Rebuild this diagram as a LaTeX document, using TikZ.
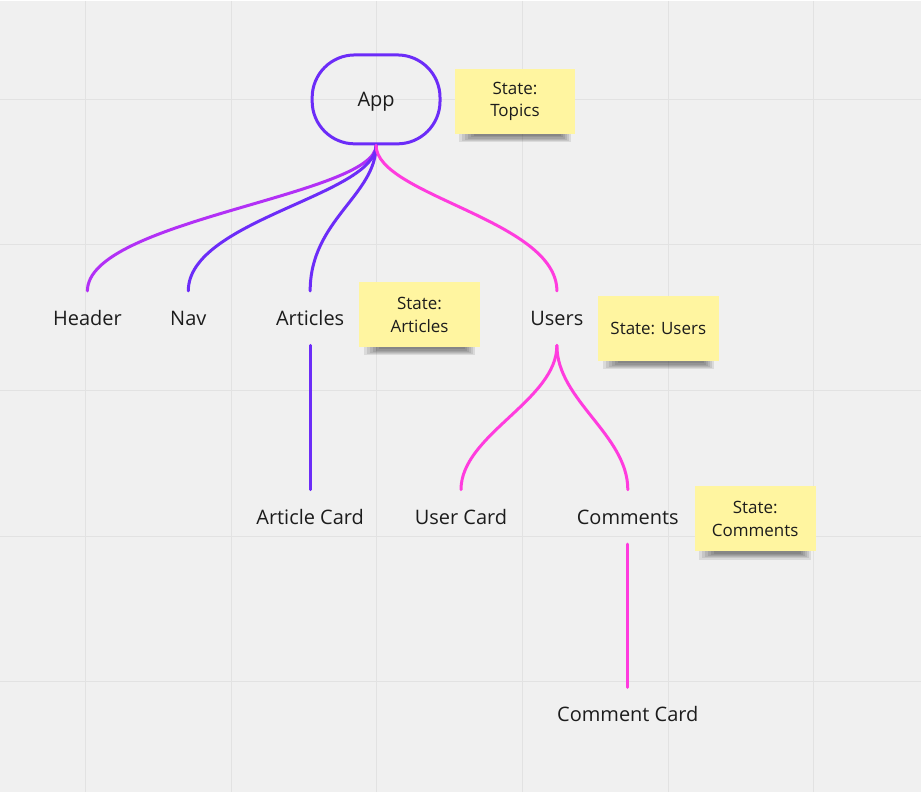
\documentclass[tikz,border=0pt]{standalone}
\usepackage{fontspec}
\setmainfont{Open Sans}
\usetikzlibrary{calc}
\pgfdeclarelayer{back}
\pgfdeclarelayer{shade}
\pgfsetlayers{back,shade,main}
\definecolor{bgc}{RGB}{240,240,240}
\definecolor{gridc}{RGB}{226,226,226}
\definecolor{violetc}{RGB}{108,44,248}
\definecolor{purplec}{RGB}{178,48,246}
\definecolor{pinkc}{RGB}{255,60,222}
\definecolor{stickyc}{RGB}{255,245,160}
\definecolor{textc}{RGB}{28,28,28}
\tikzset{
  lbl/.style={font=\fontsize{15}{18}\selectfont, text=textc, text height=10.7pt, text depth=0pt, minimum height=40.5pt, inner sep=0pt},
  sticky/.style={fill=stickyc, minimum width=90.75pt, minimum height=48.75pt, align=center, inner sep=0pt, text=textc, font=\fontsize{12.75}{17.25}\selectfont},
  conn/.style={line width=2.25pt, line cap=round},
  appbox/.style={draw=violetc, line width=2.25pt, rounded corners=32pt, minimum width=96pt, minimum height=66.75pt, inner sep=0pt, font=\fontsize{15}{18}\selectfont, text=textc, text height=10.7pt, text depth=0pt}
}
\newcommand{\stickyshade}[1]{%
  \begin{pgfonlayer}{shade}
  \foreach \i in {0,...,5}{
    \fill[black, opacity=0.09] ($(#1.south west)+(5+3*\i,-3)$) rectangle ($(#1.south east)+(-5-2*\i,8-1.2*\i)$);
  }
  \end{pgfonlayer}}
\begin{document}
\begin{tikzpicture}[x=0.75pt,y=-0.75pt]
\begin{pgfonlayer}{back}
\fill[bgc] (0,0) rectangle (921,792);
\foreach \gx in {85.5,231.2,376.9,522.6,668.3,814} \draw[gridc, line width=0.75pt] (\gx,0) -- (\gx,792);
\foreach \gy in {99,244.7,390.4,536.1,681.8} \draw[gridc, line width=0.75pt] (0,\gy) -- (921,\gy);
\end{pgfonlayer}
\useasboundingbox (0,0) rectangle (921,792);

% nodes
\node[appbox] (app) at (376,99) {App};
\node[sticky] (topics) at (515,101) {State:\\Topics};
\node[lbl] (header) at (87,318) {Header};
\node[lbl] (nav) at (188,318) {Nav};
\node[lbl] (articles) at (310,318) {Articles};
\node[sticky] (artstate) at (419.5,314.5) {State:\\Articles};
\node[lbl] (users) at (557,318) {Users};
\node[sticky] (userstate) at (658.5,328.5) {State: Users};
\node[lbl] (artcard) at (310,517) {Article Card};
\node[lbl] (usercard) at (461,517) {User Card};
\node[lbl] (comments) at (628,517) {Comments};
\node[sticky] (commstate) at (755.5,519) {State:\\Comments};
\node[lbl] (commcard) at (628,715) {Comment Card};

\stickyshade{topics}
\stickyshade{artstate}
\stickyshade{userstate}
\stickyshade{commstate}

% connectors
\draw[conn, purplec] (app.south) .. controls +(0,50) and +(0,-71) .. (header.north);
\draw[conn, violetc] (app.south) .. controls +(0,50) and +(0,-71) .. (nav.north);
\draw[conn, violetc] (app.south) .. controls +(0,50) and +(0,-71) .. (articles.north);
\draw[conn, pinkc] (app.south) .. controls +(0,50) and +(0,-71) .. (users.north);
\draw[conn, violetc] (articles.south) -- (artcard.north);
\draw[conn, pinkc] (users.south) .. controls +(0,55) and +(0,-55) .. (usercard.north);
\draw[conn, pinkc] (users.south) .. controls +(0,55) and +(0,-55) .. (comments.north);
\draw[conn, pinkc] (comments.south) -- (commcard.north);
\end{tikzpicture}
\end{document}
